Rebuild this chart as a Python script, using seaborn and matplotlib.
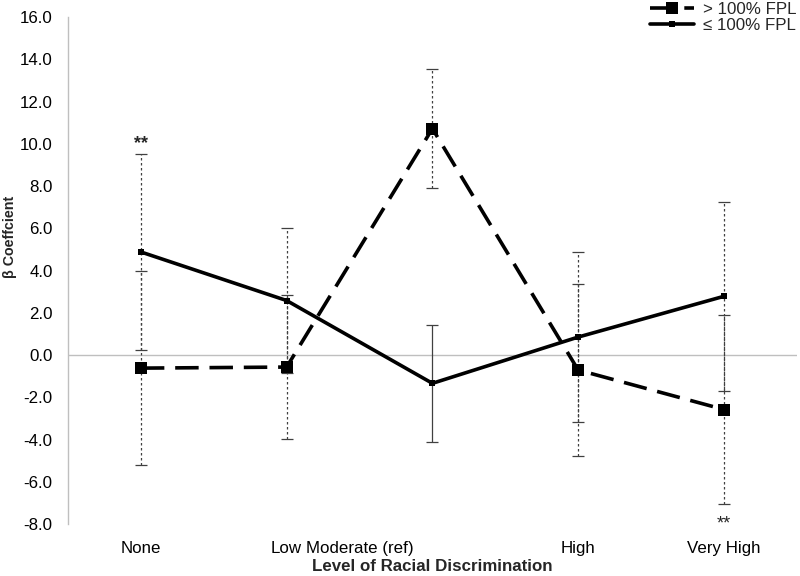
import numpy as np
import pandas as pd
import matplotlib
matplotlib.use('Agg')
import matplotlib.pyplot as plt
import matplotlib.transforms as mtransforms
import seaborn as sns

# Data
categories = ["None", "Low", "Moderate (ref)", "High", "Very High"]
above_beta = [-0.62, -0.57, 10.72, -0.71, -2.58]   # > 100% FPL
above_err = [4.60, 3.42, 2.80, 4.07, 4.47]
below_beta = [4.88, 2.58, -1.34, 0.85, 2.78]        # <= 100% FPL
below_err = [4.66, 3.42, 2.76, 4.04, 4.48]
yticks = [-8, -6, -4, -2, 0, 2, 4, 6, 8, 10, 12, 14, 16]
ref_label = "Moderate (ref)"

pos = np.arange(len(categories))
df = pd.DataFrame({'pos': np.concatenate([pos, pos]),
                   'beta': above_beta + below_beta,
                   'group': ['> 100% FPL'] * len(pos) + ['≤ 100% FPL'] * len(pos)})

sns.set_theme(style="white")
plt.rcParams['font.family'] = ['Liberation Sans', 'DejaVu Sans']

fig = plt.figure(figsize=(8, 5.76), dpi=100)
ax = fig.add_axes([0.085, 0.0903, 0.911, 0.880])

err_color = '#404040'
ref_i = categories.index(ref_label)

# error bars (dotted, except the reference point of the low-income group)
eb = ax.errorbar(pos, above_beta, yerr=above_err, fmt='none', ecolor=err_color,
                 elinewidth=0.9, capsize=4, capthick=0.9, zorder=1)
eb[2][0].set_linestyle((0, (2, 2)))
for i in pos:
    ls = '-' if i == ref_i else (0, (2, 2))
    eb2 = ax.errorbar([i], [below_beta[i]], yerr=[below_err[i]], fmt='none',
                      ecolor=err_color, elinewidth=0.9, capsize=4, capthick=0.9, zorder=1)
    eb2[2][0].set_linestyle(ls)

# zero line
ax.axhline(0, color='#bfbfbf', lw=1, zorder=0)

sns.lineplot(data=df[df.group == '> 100% FPL'], x='pos', y='beta', ax=ax,
             color='black', lw=2.6, dashes=False, marker='s', markersize=9,
             markeredgewidth=0, label='> 100% FPL', zorder=3)
ax.lines[-1].set_dashes((6.5, 3))
sns.lineplot(data=df[df.group == '≤ 100% FPL'], x='pos', y='beta', ax=ax,
             color='black', lw=2.6, marker='s', markersize=5,
             markeredgewidth=0, label='≤ 100% FPL', zorder=3)

# significance markers
ax.annotate('**', (pos[0], below_beta[0] + below_err[0]), xytext=(0, 1),
            textcoords='offset points', ha='center', va='bottom',
            fontsize=13, fontweight='bold')
ax.annotate('**', (pos[-1], above_beta[-1] - above_err[-1]), xytext=(0, -8),
            textcoords='offset points', ha='center', va='top', fontsize=13)

ax.set_xlim(-0.5, len(categories) - 0.5)
ax.set_ylim(-8, 16)
ax.set_yticks(yticks)
ax.set_yticklabels([f'{v:.1f}' for v in yticks])
ax.set_xticks(pos)
ax.set_xticklabels(categories)
ax.tick_params(axis='both', length=0, labelsize=12.2, colors='black')
ax.tick_params(axis='x', pad=12)
ax.tick_params(axis='y', pad=11)

lab = ax.get_xticklabels()[ref_i]
lab.set_ha('right')
lab.set_transform(lab.get_transform() + mtransforms.ScaledTranslation(-0.19, 0, fig.dpi_scale_trans))

ax.set_xlabel('Level of Racial Discrimination', fontsize=12.2, fontweight='bold')
ax.set_ylabel('β Coeffcient', fontsize=10.3, fontweight='bold')
ax.xaxis.set_label_coords(0.5, -0.07)
ax.yaxis.set_label_coords(-0.07, 0.566)

for s in ['top', 'right', 'bottom']:
    ax.spines[s].set_visible(False)
ax.spines['left'].set_color('#bfbfbf')
ax.spines['left'].set_linewidth(1)

leg = ax.legend(loc='upper right', bbox_to_anchor=(1.006, 1.012), bbox_transform=fig.transFigure,
                frameon=False, fontsize=12.2, handlelength=2.6, handletextpad=0.5,
                labelspacing=0.1, borderaxespad=0.1)

fig.savefig('out.png', dpi=100)
